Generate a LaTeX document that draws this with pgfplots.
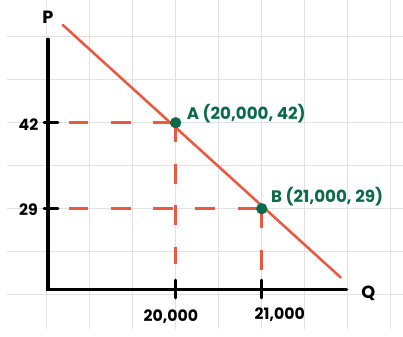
\documentclass[border=0pt]{standalone}
\usepackage{pgfplots}
\pgfplotsset{compat=1.18}
\usepackage{fontspec}
\setmainfont{Poppins}
\definecolor{demandred}{RGB}{236,88,64}
\definecolor{ptgreen}{RGB}{11,107,72}
\definecolor{paper}{RGB}{226,226,226}

\begin{document}
\begin{tikzpicture}
\begin{axis}[
    scale only axis,
    width=403pt, height=335pt,
    xmin=18036.5, xmax=22637,
    ymin=10.73, ymax=60.5,
    axis line style={draw=none},
    xtick={18500,19000,...,22500},
    ytick={16,22.5,29,35.5,42,48.5,55},
    xticklabels={}, yticklabels={},
    scaled x ticks=false,
    major tick length=0pt,
    grid=major,
    grid style={paper, line width=0.9pt},
    clip=false,
]
    % demand curve
    \addplot[demandred, line width=2.6pt, line cap=round]
        coordinates {(18687,56.8) (21918,18.6)};
    % dashed guides
    \addplot[demandred, line width=2.8pt, dash pattern=on 20pt off 23pt]
        coordinates {(18756,42) (20000,42)};
    \addplot[demandred, line width=2.8pt, dash pattern=on 20pt off 23pt]
        coordinates {(18756,29) (21000,29)};
    \addplot[demandred, line width=2.8pt, dash pattern=on 20pt off 22pt]
        coordinates {(20000,42) (20000,20.7)};
    \addplot[demandred, line width=2.8pt, dash pattern=on 20pt off 22pt]
        coordinates {(21000,29) (21000,19.3)};
    % axes
    \addplot[black, line width=3.6pt, line cap=round]
        coordinates {(18515,54.6) (18515,16.75) (21986,16.75)};
    % ticks
    \addplot[black, line width=3pt, line cap=round]
        coordinates {(18470,42) (18630,42)};
    \addplot[black, line width=3pt, line cap=round]
        coordinates {(18470,29) (18630,29)};
    \addplot[black, line width=3pt, line cap=round]
        coordinates {(20000,18.2) (20000,15.5)};
    \addplot[black, line width=3pt, line cap=round]
        coordinates {(21000,18.2) (21000,15.5)};
    % points
    \addplot[only marks, mark=*, mark size=5.5pt, ptgreen]
        coordinates {(20000,42) (21000,29)};
    % labels
    \node[font=\bfseries\fontsize{16}{16}\selectfont] at (axis cs:18290,41.7) {42};
    \node[font=\bfseries\fontsize{16}{16}\selectfont] at (axis cs:18290,28.9) {29};
    \node[font=\bfseries\fontsize{16}{16}\selectfont] at (axis cs:19943,12.7) {20,000};
    \node[font=\bfseries\fontsize{16}{16}\selectfont] at (axis cs:21210,12.9) {21,000};
    \node[font=\bfseries\fontsize{18}{18}\selectfont] at (axis cs:18516,57.9) {P};
    \node[font=\bfseries\fontsize{18}{18}\selectfont] at (axis cs:22238,16.2) {Q};
    \node[anchor=west, ptgreen, font=\bfseries\fontsize{17}{17}\selectfont]
        at (axis cs:20090,43.4) {A (20,000, 42)};
    \node[anchor=west, ptgreen, font=\bfseries\fontsize{17}{17}\selectfont]
        at (axis cs:21070,30.8) {B (21,000, 29)};
\end{axis}
\end{tikzpicture}
\end{document}
